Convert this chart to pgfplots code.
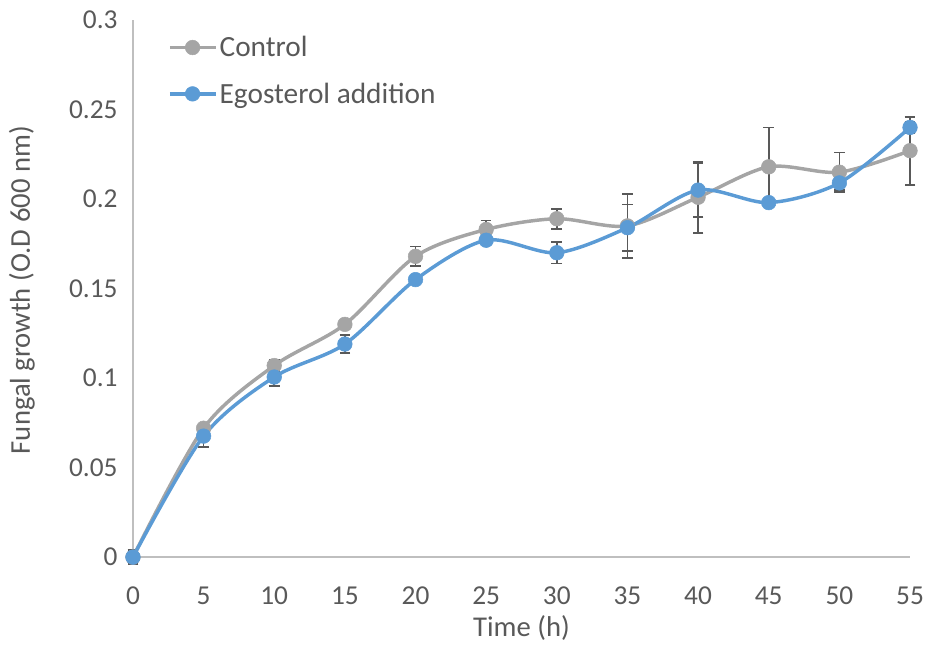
\documentclass[border=0pt]{standalone}
\usepackage{fontspec}
\setmainfont{Carlito}
\usepackage{pgfplots}
\usepackage{pgfplotstable}
\pgfplotsset{compat=1.18}
\definecolor{ctrl}{HTML}{A5A5A5}
\definecolor{ego}{HTML}{5B9BD5}
\definecolor{axgray}{HTML}{BFBFBF}
\definecolor{txt}{HTML}{595959}
\definecolor{err}{HTML}{595959}

\pgfplotstableread{
x y ey
0 0 0.004
5 0.072 0.002
10 0.107 0.003
15 0.130 0.002
20 0.168 0.0055
25 0.183 0.005
30 0.189 0.0056
35 0.185 0.018
40 0.201 0.020
45 0.218 0.022
50 0.215 0.011
55 0.227 0.019
}\control

\pgfplotstableread{
x y ey
0 0 0.002
5 0.0676 0.006
10 0.1006 0.005
15 0.119 0.005
20 0.155 0.002
25 0.177 0.002
30 0.170 0.006
35 0.184 0.013
40 0.205 0.015
45 0.198 0.002
50 0.209 0.004
55 0.240 0.003
}\ego

\begin{document}
\begin{tikzpicture}
\begin{axis}[
  scale only axis, width=583pt, height=403pt,
  xmin=0, xmax=55, ymin=0, ymax=0.3,
  clip=false,
  xtick={0,5,10,15,20,25,30,35,40,45,50,55},
  ytick={0,0.05,0.1,0.15,0.2,0.25,0.3},
  yticklabels={0,0.05,0.1,0.15,0.2,0.25,0.3},
  axis x line=bottom, axis y line=left,
  axis line style={axgray, line width=1.2pt, -},
  major tick length=0pt,
  tick label style={font=\fontsize{20.5}{24}\selectfont, text=txt},
  xticklabel style={yshift=-19pt},
  yticklabel style={xshift=-8pt},
  /pgf/number format/assume math mode=true,
  xlabel={Time (h)},
  ylabel={Fungal growth (O.D 600 nm)},
  label style={font=\fontsize{21.5}{25}\selectfont, text=txt},
  xlabel style={at={(axis description cs:0.5,-0.132)}, anchor=center},
  ylabel style={at={(axis description cs:-0.143,0.497)}, anchor=center, rotate=0},
  legend style={draw=none, fill=none, at={(axis description cs:0.045,0.975)}, anchor=north west,
    font=\fontsize{22}{26}\selectfont, text=txt, row sep=14pt, inner sep=0pt},
  legend cell align=left,
  legend image code/.code={
    \draw[#1, mark repeat=2, mark phase=2] plot coordinates {(0pt,0pt) (17pt,0pt) (34pt,0pt)};
  },
  error bars/error bar style={line width=1.3pt, err},
  error bars/error mark options={rotate=90, mark size=4pt, line width=1.3pt, err},
]
% control error bars (behind)
\addplot[draw=none, mark=none, forget plot,
  error bars/.cd, y dir=both, y explicit]
  table[x=x, y=y, y error=ey] {\control};
\addplot[ctrl, line width=2.6pt, smooth, tension=0.5, mark=*, mark size=5.5pt,
  mark options={fill=ctrl, draw=ctrl, line width=0.4pt, solid}]
  table[x=x, y=y] {\control};
\addlegendentry{Control}
% egosterol error bars
\addplot[draw=none, mark=none, forget plot,
  error bars/.cd, y dir=both, y explicit]
  table[x=x, y=y, y error=ey] {\ego};
\addplot[ego, line width=2.6pt, smooth, tension=0.5, mark=*, mark size=5.5pt,
  mark options={fill=ego, draw=ego, line width=0.4pt, solid}]
  table[x=x, y=y] {\ego};
\addlegendentry{Egosterol addition}
\coordinate (bl) at (rel axis cs:0,0);
\coordinate (tr) at (rel axis cs:1,1);
\end{axis}
\pgfresetboundingbox
\path ([xshift=-99.75pt,yshift=-68.25pt]bl) rectangle ([xshift=14.25pt,yshift=15pt]tr);
\end{tikzpicture}
\end{document}
